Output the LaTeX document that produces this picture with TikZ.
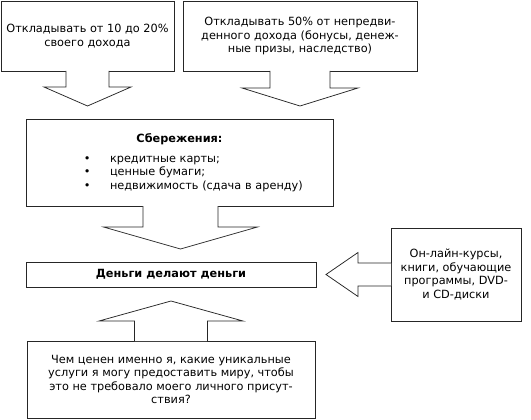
\documentclass[tikz,border=0pt]{standalone}
\usepackage{fontspec}
\setmainfont{DejaVu Sans}
\usetikzlibrary{calc}
\usetikzlibrary{positioning}

\begin{document}
\begin{tikzpicture}[
    box/.style={rectangle, draw=black!85, line width=0.75pt, fill=white, inner sep=2pt, outer sep=0pt, align=center, font=\fontsize{11.3}{13.6}\selectfont},
    blockarrow/.style={draw=black!85, line width=0.75pt, fill=white, line join=miter}
  ]
    \useasboundingbox (-87.5pt,36pt) rectangle (443.5pt,-384pt);

    \node [box, minimum width=173pt, minimum height=70pt] (save10) at (0,0) {Откладывать от 10 до 20\%\\своего дохода};
    \node [box, minimum width=234pt, minimum height=70pt, right=9pt of save10] (save50) {Откладывать 50\% от непредви-\\денного дохода (бонусы, денеж-\\ные призы, наследство)};
    \node [box, text width=303pt, minimum height=87pt, align=left, below=48pt of save10, xshift=92pt] (savings) {\makebox[\linewidth]{\textbf{Сбережения:}}\\[6pt]
        \hspace*{56pt}\makebox[26pt][l]{\textbullet}кредитные карты;\\
        \hspace*{56pt}\makebox[26pt][l]{\textbullet}ценные бумаги;\\
        \hspace*{56pt}\makebox[26pt][l]{\textbullet}недвижимость (сдача в аренду)};
    \node [box, minimum width=290pt, minimum height=25pt, below=56pt of savings, xshift=-8.5pt] (money) {\textbf{Деньги делают деньги}};
    \node [box, minimum width=130pt, minimum height=93pt, right=75pt of money] (courses) {Он-лайн-курсы,\\книги, обучающие\\программы, DVD-\\и CD-диски};
    \node [box, minimum width=288pt, minimum height=77pt, below=54pt of money] (question) {Чем ценен именно я, какие уникальные\\услуги я могу предоставить миру, чтобы\\это не требовало моего личного присут-\\ствия?};

    \draw [blockarrow, shift={(save10.south)}] (-21.5pt,0) -- (-21.5pt,-16pt) -- (-43.5pt,-16pt) -- (0,-35pt) -- (43.5pt,-16pt) -- (21.5pt,-16pt) -- (21.5pt,0);
    \draw [blockarrow, shift={(save50.south)}] (-30pt,0) -- (-30pt,-17pt) -- (-58pt,-17pt) -- (0,-35pt) -- (58pt,-17pt) -- (30pt,-17pt) -- (30pt,0);
    \draw [blockarrow, shift={(savings.south)}] (-36.5pt,0) -- (-36.5pt,-21pt) -- (-76pt,-21pt) -- (1pt,-43pt) -- (78pt,-21pt) -- (38.5pt,-21pt) -- (38.5pt,0);
    \draw [blockarrow, shift={(courses.west)}] (0,11.5pt) -- (-33pt,11.5pt) -- (-33pt,22pt) -- (-65pt,0) -- (-33pt,-22pt) -- (-33pt,-11.5pt) -- (0,-11.5pt);
    \draw [blockarrow, shift={(question.north)}] (-36.5pt,0) -- (-36.5pt,20pt) -- (-72pt,20pt) -- (0,40pt) -- (72pt,20pt) -- (36.5pt,20pt) -- (36.5pt,0);
\end{tikzpicture}
\end{document}
